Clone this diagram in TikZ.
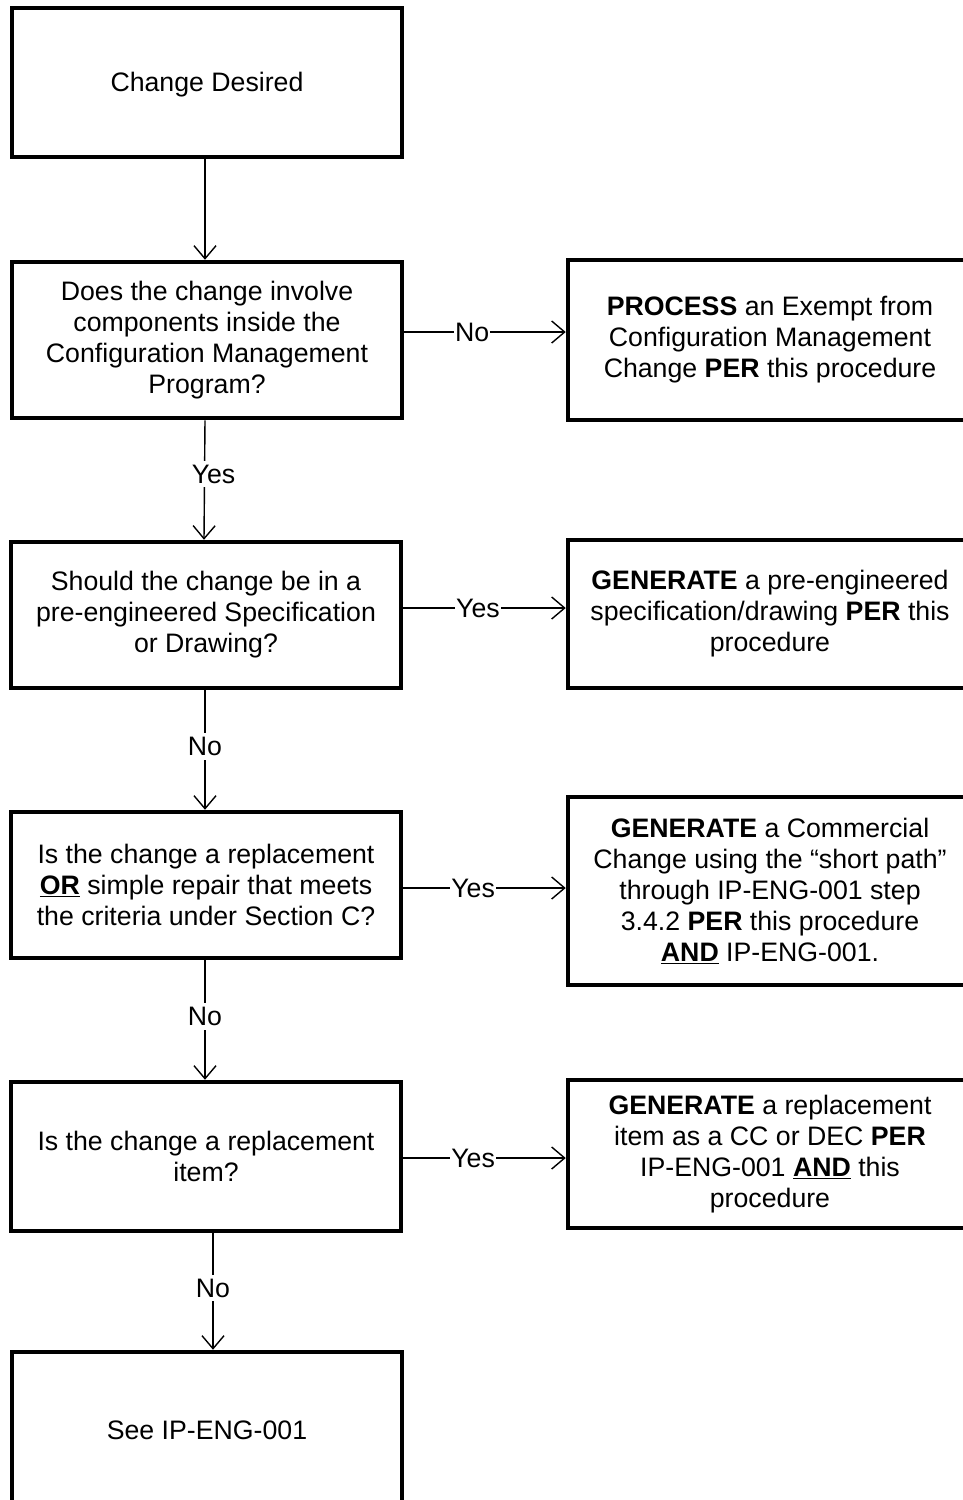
\documentclass[tikz,border=0pt]{standalone}
\usepackage{fontspec}
\setmainfont{Liberation Sans}
\usetikzlibrary{arrows.meta}
\newcommand\wordstrut{\rule{0pt}{0.905em}}
\begin{document}
\begin{tikzpicture}[x=1pt,y=-1pt,
  font=\fontsize{26.7}{31}\selectfont,
  box/.style={draw, line width=4.5pt, align=center, inner sep=0pt, minimum width=390pt,
    execute at begin node={\wordstrut}},
  rbox/.style={draw, line width=4.5pt, align=center, inner sep=0pt, minimum width=404pt,
    execute at begin node={\wordstrut}},
  conn/.style={line width=1.4pt, -{Straight Barb[length=13pt,width=22pt,line width=1.4pt]}},
  lab/.style={fill=white, inner xsep=1pt, inner ysep=4pt}]
\useasboundingbox (0,0) rectangle (963,1500);

\node[box, minimum height=149pt] (b1) at (207,82.5) {Change Desired};
\node[box, minimum height=156pt] (b2) at (207,340) {Does the change involve\\components inside the\\Configuration Management\\Program?};
\node[box, minimum height=146pt] (b3) at (206,615) {Should the change be in a\\pre-engineered Specification\\or Drawing?};
\node[box, minimum height=146pt] (b4) at (206,885) {Is the change a replacement\\\underline{\textbf{OR}} simple repair that meets\\the criteria under Section C?};
\node[box, minimum height=149pt] (b5) at (206,1156.5) {Is the change a replacement\\item?};
\node[box, minimum height=152pt] (b6) at (207,1428) {See IP-ENG-001};

\node[rbox, minimum height=160pt] (r1) at (770,340) {\textbf{PROCESS} an Exempt from\\Configuration Management\\Change \textbf{PER} this procedure};
\node[rbox, minimum height=148pt] (r2) at (770,614) {\textbf{GENERATE} a pre-engineered\\specification/drawing \textbf{PER} this\\procedure};
\node[rbox, minimum height=188pt] (r3) at (770,891) {\textbf{GENERATE} a Commercial\\Change using the “short path”\\through IP-ENG-001 step\\3.4.2 \textbf{PER} this procedure\\\underline{\textbf{AND}} IP-ENG-001.};
\node[rbox, minimum height=148pt] (r4) at (770,1154) {\textbf{GENERATE} a replacement\\item as a CC or DEC \textbf{PER}\\IP-ENG-001 \underline{\textbf{AND}} this\\procedure};

\draw[conn] ([xshift=-2pt]b1.south) -- ([xshift=-2pt]b2.north);
\draw[conn] ([xshift=-2pt]b2.south) -- node[lab, xshift=9pt, pos=0.45]{Yes} ([xshift=-2pt]b3.north);
\draw[conn] ([xshift=-1pt]b3.south) -- node[lab, pos=0.47]{No} ([xshift=-1pt]b4.north);
\draw[conn] ([xshift=-1pt]b4.south) -- node[lab, pos=0.47]{No} ([xshift=-1pt]b5.north);
\draw[conn] ([xshift=7pt]b5.south) -- node[lab, pos=0.47]{No} ([xshift=6pt]b6.north);

\draw[conn] (b2.east |- 0,332) -- node[lab, pos=0.42]{No} (r1.west |- 0,332);
\draw[conn] (b3.east |- 0,608) -- node[lab, pos=0.46]{Yes} (r2.west |- 0,608);
\draw[conn] (b4.east |- 0,888) -- node[lab, pos=0.43]{Yes} (r3.west |- 0,888);
\draw[conn] (b5.east |- 0,1158) -- node[lab, pos=0.43]{Yes} (r4.west |- 0,1158);
\end{tikzpicture}
\end{document}
